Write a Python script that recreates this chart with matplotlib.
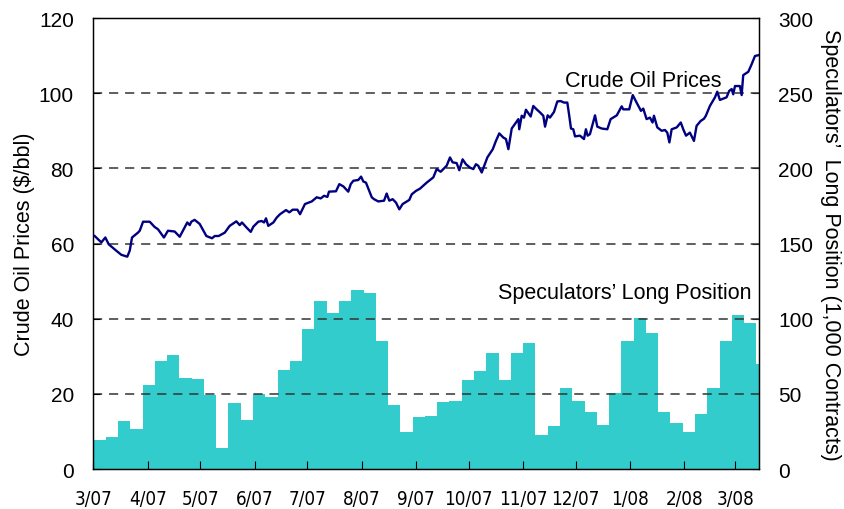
import matplotlib
matplotlib.use("Agg")
import matplotlib.pyplot as plt
from matplotlib import font_manager
import numpy as np

plt.rcParams['font.family'] = ['Liberation Sans', 'DejaVu Sans']

# crude oil price (days after 1 Mar 2007, $/bbl)
oil_day = [0.7, 4.5, 6.8, 8.7, 13, 15.9, 19.3, 20.7, 22, 25.4, 26.4, 28.3, 32.1, 34.9, 36.8,
           40.2, 42.5, 46.3, 49.2, 52, 53.5, 54.9, 55.8, 57.7, 60.6, 64.4, 67.6, 69.2, 71.4,
           74.9, 77.7, 81.5, 83.4, 84.7, 87.2, 89.7, 91.2, 94, 95.9, 97.3, 98.4, 99.7, 102.6,
           104.5, 106.4, 109.8, 111.7, 113.6, 116.3, 117.8, 120.6, 124.5, 127.3, 129.6, 131.5,
           133.4, 134.3, 138.3, 140.2, 142.5, 145.3, 146.7, 148.2, 151, 152.6, 153.9, 155.4,
           158.7, 160, 162.4, 165.7, 167.2, 168.7, 170.6, 172.5, 174.4, 176.3, 180.1, 181.5,
           183.9, 186.2, 190, 193.8, 195.7, 198, 201.4, 203.3, 204.8, 207.1, 208.6, 210.5,
           212.4, 214.7, 216.6, 218.1, 219.4, 221.4, 224.6, 227.7, 229.5, 231.4, 233.7, 235.2,
           236.6, 238.5, 242.3, 242.8, 244.2, 245.5, 246.6, 249.3, 250.8, 252.7, 254.6, 256.5,
           257.5, 259, 260.3, 262.6, 264.5, 266.4, 268.3, 270.2, 271.3, 272.3, 273.6, 274.6,
           277.4, 279.7, 280.8, 281.8, 283.1, 286, 287.3, 289.8, 293, 294.9, 298.4, 301.2,
           302.1, 305.5, 307.5, 309.7, 312.2, 313.5, 315.4, 317.3, 318.8, 319.6, 321.5, 324,
           325.9, 327.2, 328.4, 329.7, 332.6, 334.9, 336.3, 337.9, 340.1, 342.4, 343.9, 346.2,
           348.1, 349.2, 351.5, 354.4, 355.7, 357.2, 361, 362.5, 363.9, 364.8, 365.8, 368.6,
           369.6, 370.5, 373.4, 375.3, 377.2, 379.1]
oil_price = [62.0, 60.3, 61.6, 59.8, 58.1, 57.0, 56.5, 58.1, 61.6, 62.9, 63.4, 65.8, 65.8, 64.4,
             63.8, 61.6, 63.4, 63.2, 61.8, 64.3, 65.6, 64.9, 65.8, 66.3, 65.2, 62.0, 61.4, 62.0,
             62.0, 62.9, 64.7, 65.9, 64.9, 65.6, 64.3, 63.1, 64.5, 65.8, 66.0, 65.6, 66.7, 64.7,
             65.6, 66.9, 67.8, 68.9, 68.3, 69.0, 69.0, 67.8, 70.5, 71.2, 72.3, 72.0, 72.7, 72.4,
             73.8, 73.9, 75.8, 75.2, 73.8, 75.8, 76.7, 76.9, 77.8, 76.5, 76.2, 72.3, 71.8, 71.2,
             71.4, 73.3, 71.4, 71.8, 70.9, 69.1, 70.5, 71.6, 73.1, 74.0, 74.6, 76.2, 77.6, 79.8,
             79.1, 80.7, 82.9, 81.6, 81.4, 79.5, 82.4, 81.1, 80.2, 79.8, 81.1, 80.7, 78.9, 82.9,
             85.1, 87.3, 89.3, 88.2, 87.8, 85.1, 90.6, 93.1, 90.4, 94.0, 93.5, 95.6, 93.8, 96.6,
             95.7, 94.9, 94.0, 91.1, 94.1, 93.5, 95.0, 97.8, 97.9, 97.5, 97.5, 94.0, 90.6, 90.4,
             88.5, 88.7, 87.8, 90.4, 88.7, 89.1, 94.1, 91.1, 90.6, 90.4, 93.1, 94.1, 96.5, 95.7,
             95.7, 99.5, 97.5, 95.3, 95.9, 93.1, 93.5, 92.2, 94.0, 90.9, 90.0, 90.2, 89.5, 86.9,
             90.4, 90.9, 92.2, 90.4, 88.7, 89.5, 87.3, 91.3, 92.6, 93.2, 94.0, 96.6, 98.9, 100.4,
             98.2, 98.9, 100.6, 101.1, 99.7, 101.9, 101.9, 99.5, 104.8, 105.7, 107.7, 109.9, 110.1]

# weekly speculators' long position (1,000 contracts)
spec_long = [19.3, 21.3, 32, 26.7, 56, 72, 76, 60.7, 60, 49.3, 14, 44, 32.7, 50, 48, 66, 72,
             93.3, 112, 104, 112, 119.3, 117.3, 85.3, 42.7, 24.7, 34.7, 35.3, 44.7, 45.3, 59.3,
             65.3, 77.3, 59.3, 77.3, 84, 22.7, 28.7, 54, 45.3, 38, 29.3, 50.7, 85.3, 100.7,
             90.7, 38, 30.7, 24.7, 36.7, 54, 85.3, 102.7, 97.3, 70]

months = np.arange('2007-03', '2008-04', dtype='datetime64[M]')
month_day = (months.astype('datetime64[D]') - np.datetime64('2007-03-01')).astype(int)
month_lbl = ['%d/%s' % (m.astype(object).month, str(m.astype(object).year)[2:]) for m in months]
week_day = 7 * np.arange(len(spec_long))

# narrow font for the date labels if one is around
xfont = font_manager.FontProperties(family='Liberation Sans', size=12)
for fam in ['Liberation Sans Narrow', 'DejaVu Sans']:
    try:
        fp = font_manager.FontProperties(family=fam, stretch='condensed')
        path = font_manager.findfont(fp, fallback_to_default=False)
    except Exception:
        continue
    if 'Narrow' in path or 'Condensed' in path:
        xfont = font_manager.FontProperties(fname=path, size=13.5)
        break

fig = plt.figure(figsize=(8.44, 5.10), dpi=100)
ax = fig.add_axes([0.1107, 0.0784, 0.7886, 0.8843])
ax2 = ax.twinx()

for g in [20, 40, 60, 80, 100]:
    ax.axhline(g, color='#333333', lw=1.1, ls=(0, (6, 4.5)), zorder=0)

ax2.bar(week_day, spec_long, width=7, align='edge', color='#33CCCC', lw=0, zorder=2)
ax.plot(oil_day, oil_price, color='#000080', lw=1.7, zorder=3)
ax.set_zorder(2)
ax.patch.set_visible(False)

ax.set_xlim(0, 379.5)
ax.set_ylim(0, 120)
ax2.set_ylim(0, 300)
ax.set_yticks(range(0, 121, 20))
ax2.set_yticks(range(0, 301, 50))
ax.set_xticks(month_day)
ax.set_xticklabels(month_lbl, fontproperties=xfont)

ax.tick_params(axis='y', direction='in', length=5, width=0.8, labelsize=15, pad=14)
ax2.tick_params(axis='y', direction='in', length=5, width=0.8, labelsize=15, pad=14)
ax.tick_params(axis='x', direction='in', length=6, width=0.8, pad=14.5)

ax.set_ylabel('Crude Oil Prices ($/bbl)', fontsize=15.5, labelpad=3)
ax2.set_ylabel('Speculators\u2019  Long Position (1,000 Contracts)', fontsize=15.5,
               rotation=270, labelpad=20)

ax.text(358, 102, 'Crude Oil Prices', fontsize=15.5, ha='right', va='baseline')
ax.text(375, 45.6, 'Speculators\u2019 Long Position', fontsize=15.5, ha='right', va='baseline')

for a in (ax, ax2):
    for s in a.spines.values():
        s.set_linewidth(0.9)

fig.savefig('out.png', dpi=100)
